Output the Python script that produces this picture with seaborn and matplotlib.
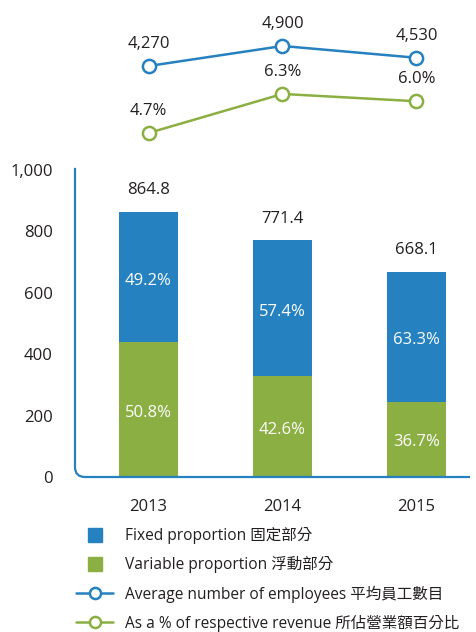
import matplotlib
matplotlib.use("Agg")
import matplotlib.pyplot as plt
from matplotlib.lines import Line2D
from matplotlib.path import Path
from matplotlib.patches import PathPatch
import seaborn as sns
import pandas as pd

# Staff cost data
years = ["2013", "2014", "2015"]
total_cost = [864.8, 771.4, 668.1]
fixed_pct = [49.2, 57.4, 63.3]
variable_pct = [50.8, 42.6, 36.7]
employees = [4270, 4900, 4530]
revenue_pct = [4.7, 6.3, 6.0]
y_ticks = [0, 200, 400, 600, 800, 1000]

legend_labels = [
    "Fixed proportion 固定部分",
    "Variable proportion 浮動部分",
    "Average number of employees 平均員工數目",
    "As a % of respective revenue 所佔營業額百分比",
]

BLUE = "#2581C0"
GREEN = "#8BAF42"
TEXT = "#231F20"
FS = 12

sns.set_theme(style="white")
plt.rcParams["font.family"] = ["Open Sans", "Noto Sans CJK TC", "DejaVu Sans"]
plt.rcParams["text.color"] = TEXT

variable_cost = [t * p / 100 for t, p in zip(total_cost, variable_pct)]
df = pd.DataFrame({"year": years, "total": total_cost, "variable": variable_cost})

W, H = 477, 632
fig = plt.figure(figsize=(W / 100, H / 100), dpi=100)

# --- Bar chart -------------------------------------------------------------
ax_left, ax_right, ax_top, ax_bot = 75, 470, 170, 477
ax = fig.add_axes([ax_left / W, 1 - ax_bot / H, (ax_right - ax_left) / W, (ax_bot - ax_top) / H])
sns.barplot(data=df, x="year", y="total", color=BLUE, width=0.44, saturation=1,
            linewidth=0, ax=ax)
sns.barplot(data=df, x="year", y="variable", color=GREEN, width=0.44, saturation=1,
            linewidth=0, ax=ax)
xmin, xmax = -0.549, 2.40
ax.set_xlim(xmin, xmax)
ax.set_ylim(0, 1000)
ax.set_yticks(y_ticks)
ax.set_yticklabels([f"{v:,}" for v in y_ticks])
ax.set_xlabel("")
ax.set_ylabel("")
ax.tick_params(axis="y", length=0, pad=16, labelsize=FS, labelcolor=TEXT)
ax.tick_params(axis="x", length=0, pad=16, labelsize=FS, labelcolor=TEXT)
for s in ax.spines.values():
    s.set_visible(False)

# Axis line with a rounded corner
rx, ry = 10 / (ax_right - ax_left), 10 / (ax_bot - ax_top)
verts = [(0, 1.007), (0, ry), (0, 0), (rx, 0), (1, 0)]
codes = [Path.MOVETO, Path.LINETO, Path.CURVE3, Path.CURVE3, Path.LINETO]
ax.add_patch(PathPatch(Path(verts, codes), transform=ax.transAxes, fill=False,
                       edgecolor=BLUE, lw=1.6, clip_on=False, capstyle="butt"))

for i, (t, v) in enumerate(zip(total_cost, variable_cost)):
    ax.text(i, t + 70, f"{t:.1f}", ha="center", va="center", fontsize=FS, color=TEXT)
    ax.text(i, v + (t - v) / 2 - 12, f"{fixed_pct[i]:.1f}%", ha="center", va="center",
            fontsize=FS, color="white")
    ax.text(i, v / 2 - 10, f"{variable_pct[i]:.1f}%", ha="center", va="center",
            fontsize=FS, color="white")

# --- Line charts above the bars -------------------------------------------
lt, lb = 20, 150
ax_emp = fig.add_axes([ax_left / W, 1 - lb / H, (ax_right - ax_left) / W, (lb - lt) / H])
ax_emp.set_xlim(xmin, xmax)
ax_emp.set_ylim(1624, 5719)
ax_emp.axis("off")
ax_pct = ax_emp.twinx()
ax_pct.set_xlim(xmin, xmax)
ax_pct.set_ylim(4.003, 9.33)
ax_pct.axis("off")

xs = list(range(len(years)))
line_kw = dict(marker="o", markersize=9.5, markerfacecolor="white", markeredgewidth=1.8,
               linewidth=1.8)
sns.lineplot(x=xs, y=employees, ax=ax_emp, color=BLUE, markeredgecolor=BLUE, **line_kw)
sns.lineplot(x=xs, y=revenue_pct, ax=ax_pct, color=GREEN, markeredgecolor=GREEN, **line_kw)
for s in (ax_emp, ax_pct):
    s.set_ylabel("")

for i, e in enumerate(employees):
    ax_emp.annotate(f"{e:,}", (i, e), xytext=(0, 16), textcoords="offset points",
                    ha="center", va="center", fontsize=FS, color=TEXT)
for i, p in enumerate(revenue_pct):
    ax_pct.annotate(f"{p:.1f}%", (i, p), xytext=(0, 16), textcoords="offset points",
                    ha="center", va="center", fontsize=FS, color=TEXT)

# --- Legend ---------------------------------------------------------------
handles = [
    Line2D([], [], linestyle="none", marker="s", markersize=10.5, color=BLUE),
    Line2D([], [], linestyle="none", marker="s", markersize=10.5, color=GREEN),
    Line2D([], [], color=BLUE, lw=1.8, marker="o", markersize=8, markerfacecolor="white",
           markeredgewidth=1.8),
    Line2D([], [], color=GREEN, lw=1.8, marker="o", markersize=8, markerfacecolor="white",
           markeredgewidth=1.8),
]
fig.legend(handles, legend_labels, loc="upper left", bbox_to_anchor=(76 / W, 1 - 527 / H),
           frameon=False, fontsize=11.2, handlelength=2.4, handletextpad=0.75,
           labelspacing=0.78, borderpad=0, borderaxespad=0, labelcolor=TEXT)

fig.savefig("out.png", dpi=100)
